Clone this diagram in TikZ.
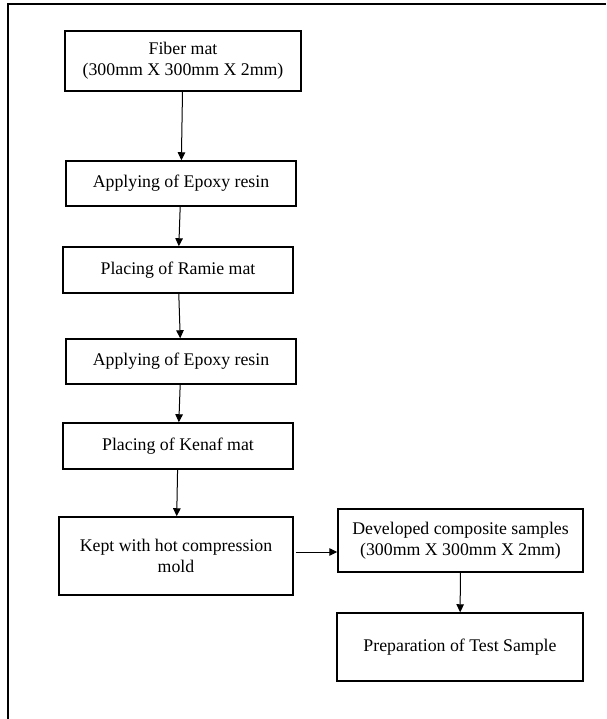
\documentclass[tikz,border=0pt]{standalone}
\usepackage{fontspec}
\setmainfont{Liberation Serif}
\usetikzlibrary{arrows.meta,calc}
\tikzset{
  box/.style={draw, line width=1.5pt, align=center, inner sep=0pt, font=\fontsize{17.8pt}{21pt}\selectfont},
  edge/.style={-{Triangle[length=8pt, width=7.5pt]}, line width=1pt}
}

\begin{document}
\begin{tikzpicture}[x=1pt, y=-1pt]
\useasboundingbox (0,0) rectangle (606,719);
% page frame (cut at right and bottom)
\draw[line width=2.5pt] (8,719) -- (8,4) -- (606,4);
% main column
\node[box, minimum width=236pt, minimum height=60pt] (fiber) at (183,61) {Fiber mat\\(300mm X 300mm X 2mm)};
\node[box, minimum width=230pt, minimum height=45pt] (epoxyA) at (181,183.5) {Applying of Epoxy resin};
\node[box, minimum width=230pt, minimum height=46pt] (ramie) at (178,270) {Placing of Ramie mat};
\node[box, minimum width=230pt, minimum height=45pt] (epoxyB) at (181,361.5) {Applying of Epoxy resin};
\node[box, minimum width=230pt, minimum height=46pt] (kenaf) at (178,446) {Placing of Kenaf mat};
\node[box, minimum width=234pt, minimum height=78pt] (mold) at (176,556) {Kept with hot compression\\mold};
% right column
\node[box, minimum width=245pt, minimum height=63pt] (composite) at (460.5,540.5) {Developed composite samples\\(300mm X 300mm X 2mm)};
\node[box, minimum width=246pt, minimum height=68pt] (test) at (460,647) {Preparation of Test Sample};
\draw[edge] (fiber) -- (epoxyA);
\draw[edge] (epoxyA) -- (ramie);
\draw[edge] (ramie) -- (epoxyB);
\draw[edge] (epoxyB) -- (kenaf);
\draw[edge] (kenaf) -- (mold);
\draw[edge] ($(mold.east)+(2,-4)$) -- ($(mold.east -| composite.west)+(0,-4)$);
\draw[edge] (composite) -- (test);
\end{tikzpicture}
\end{document}
